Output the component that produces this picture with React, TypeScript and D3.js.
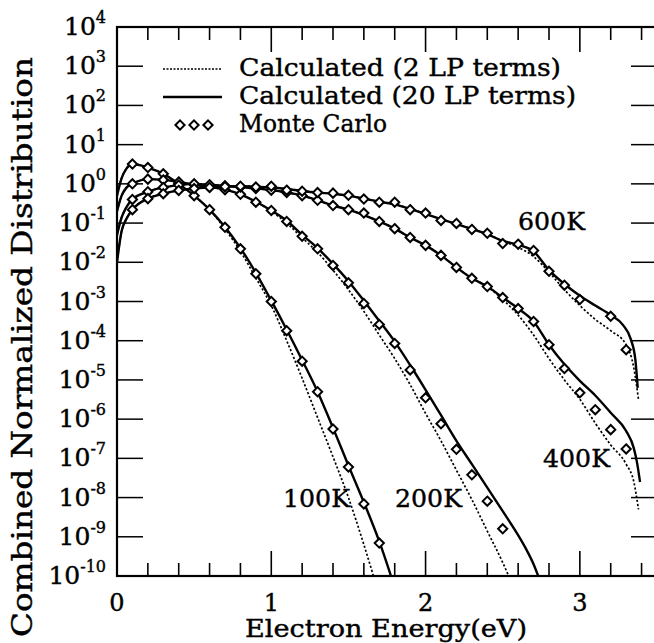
import React from "react";
import * as d3 from "d3";

// ---- data (energy in eV, combined normalized distribution) ----

// 100K
const e100 = [0, 0.03, 0.06, 0.1, 0.2, 0.3, 0.4, 0.5, 0.6, 0.7, 0.8, 0.9, 1.0, 1.1, 1.2, 1.3, 1.4, 1.5, 1.6, 1.7, 1.78];
const solid100 = [0.5, 1.4, 2.4, 3.2, 2.6, 1.8, 1.0, 0.5, 0.22, 0.079, 0.023, 5.4e-3, 1.05e-3, 1.9e-4, 3.2e-5, 5.0e-6, 6.0e-7, 6.6e-8, 7.6e-9, 7.6e-10, 8.9e-11];
const dotE100 = [0, 0.03, 0.06, 0.1, 0.2, 0.3, 0.4, 0.5, 0.6, 0.7, 0.8, 0.9, 1.0, 1.1, 1.2, 1.3, 1.4, 1.5, 1.6, 1.67];
const dot100 = [0.5, 1.4, 2.4, 3.2, 2.6, 1.8, 1.0, 0.5, 0.22, 0.071, 0.019, 4.0e-3, 7.9e-4, 1.0e-4, 1.1e-5, 1.1e-6, 1.1e-7, 1.0e-8, 6.3e-10, 7.9e-11];
const mcE100 = [0.1, 0.2, 0.3, 0.4, 0.5, 0.6, 0.7, 0.8, 0.9, 1.0, 1.1, 1.2, 1.3, 1.4, 1.5, 1.6, 1.7];
const mc100 = [3.2, 2.6, 1.8, 1.0, 0.5, 0.22, 0.078, 0.022, 5.1e-3, 1.0e-3, 1.8e-4, 3.0e-5, 5.0e-6, 5.6e-7, 6.0e-8, 6.9e-9, 6.9e-10];

// 200K
const e200 = [0, 0.03, 0.06, 0.1, 0.2, 0.3, 0.4, 0.5, 0.6, 0.7, 0.8, 0.9, 1.0, 1.1, 1.2, 1.3, 1.4, 1.5, 1.6, 1.7, 1.8, 1.9, 2.0, 2.1, 2.2, 2.3, 2.4, 2.5, 2.6, 2.65, 2.7, 2.74];
const solid200 = [0.2, 0.5, 0.79, 1.0, 1.32, 1.26, 1.12, 0.95, 0.83, 0.71, 0.54, 0.35, 0.21, 0.115, 0.05, 0.023, 9.1e-3, 3.3e-3, 1.05e-3, 3.2e-4, 9.5e-5, 2.4e-5, 5.6e-6, 1.26e-6, 2.8e-7, 7.1e-8, 1.8e-8, 4.5e-9, 1.1e-9, 5.0e-10, 2.0e-10, 7.9e-11];
const dotE200 = [0, 0.03, 0.06, 0.1, 0.2, 0.3, 0.4, 0.5, 0.6, 0.7, 0.8, 0.9, 1.0, 1.1, 1.2, 1.3, 1.4, 1.5, 1.6, 1.7, 1.8, 1.9, 2.0, 2.1, 2.2, 2.3, 2.4, 2.5, 2.55];
const dot200 = [0.2, 0.5, 0.79, 1.0, 1.32, 1.26, 1.12, 0.95, 0.83, 0.71, 0.54, 0.35, 0.2, 0.1, 0.042, 0.018, 6.3e-3, 2.0e-3, 5.6e-4, 1.4e-4, 3.5e-5, 7.6e-6, 1.4e-6, 2.8e-7, 5.0e-8, 8.9e-9, 1.4e-9, 2.2e-10, 7.9e-11];
const mcE200 = [0.1, 0.2, 0.3, 0.4, 0.5, 0.6, 0.7, 0.8, 0.9, 1.0, 1.1, 1.2, 1.3, 1.4, 1.5, 1.6, 1.7, 1.8, 1.9, 2.0, 2.1, 2.2, 2.3, 2.4, 2.5];
const mc200 = [1.0, 1.32, 1.26, 1.12, 0.95, 0.83, 0.71, 0.54, 0.34, 0.21, 0.11, 0.046, 0.022, 8.3e-3, 3.0e-3, 8.9e-4, 2.6e-4, 8.5e-5, 1.8e-5, 3.5e-6, 7.6e-7, 1.7e-7, 3.8e-8, 8.1e-9, 1.6e-9];

// 400K
const e400 = [0, 0.03, 0.06, 0.1, 0.2, 0.3, 0.4, 0.5, 0.6, 0.7, 0.8, 0.9, 1.0, 1.1, 1.2, 1.3, 1.4, 1.5, 1.6, 1.7, 1.8, 1.9, 2.0, 2.1, 2.2, 2.3, 2.4, 2.5, 2.6, 2.7, 2.8, 2.9, 3.0, 3.1, 3.2, 3.3, 3.35, 3.37, 3.39];
const solid400 = [0.05, 0.14, 0.25, 0.4, 0.63, 0.81, 0.93, 1.0, 0.95, 0.89, 0.83, 0.76, 0.69, 0.6, 0.5, 0.38, 0.28, 0.22, 0.16, 0.11, 0.072, 0.043, 0.027, 0.015, 7.4e-3, 3.9e-3, 2.4e-3, 1.26e-3, 6.6e-4, 3.1e-4, 7.9e-5, 2.5e-5, 9.5e-6, 4.0e-6, 1.45e-6, 5.0e-7, 1.8e-7, 8.0e-8, 2.5e-8];
const dotE400 = [0, 0.03, 0.06, 0.1, 0.2, 0.3, 0.4, 0.5, 0.6, 0.7, 0.8, 0.9, 1.0, 1.1, 1.2, 1.3, 1.4, 1.5, 1.6, 1.7, 1.8, 1.9, 2.0, 2.1, 2.2, 2.3, 2.4, 2.5, 2.6, 2.7, 2.8, 2.9, 3.0, 3.1, 3.2, 3.3, 3.35, 3.38];
const dot400 = [0.05, 0.14, 0.25, 0.4, 0.63, 0.81, 0.93, 1.0, 0.95, 0.89, 0.83, 0.76, 0.69, 0.6, 0.5, 0.38, 0.28, 0.22, 0.16, 0.11, 0.072, 0.043, 0.027, 0.015, 7.4e-3, 3.9e-3, 2.4e-3, 1.12e-3, 4.5e-4, 1.4e-4, 3.5e-5, 1.0e-5, 3.2e-6, 7.9e-7, 2.2e-7, 7.1e-8, 2.5e-8, 5.0e-9];
const mcE400 = [0.1, 0.2, 0.3, 0.4, 0.5, 0.6, 0.7, 0.8, 0.9, 1.0, 1.1, 1.2, 1.3, 1.4, 1.5, 1.6, 1.7, 1.8, 1.9, 2.0, 2.1, 2.2, 2.3, 2.4, 2.5, 2.6, 2.7, 2.8, 2.9, 3.0, 3.1, 3.2, 3.3];
const mc400 = [0.4, 0.63, 0.81, 0.93, 1.0, 0.95, 0.89, 0.83, 0.76, 0.69, 0.6, 0.5, 0.38, 0.28, 0.22, 0.18, 0.11, 0.072, 0.043, 0.027, 0.015, 7.4e-3, 3.9e-3, 2.4e-3, 1.26e-3, 6.6e-4, 3.1e-4, 7.9e-5, 1.95e-5, 4.7e-6, 1.74e-6, 5.4e-7, 1.74e-7];

// 600K
const e600 = [0, 0.03, 0.06, 0.1, 0.2, 0.3, 0.4, 0.5, 0.6, 0.7, 0.8, 0.9, 1.0, 1.1, 1.2, 1.3, 1.4, 1.5, 1.6, 1.7, 1.8, 1.9, 2.0, 2.1, 2.2, 2.3, 2.4, 2.5, 2.6, 2.7, 2.8, 2.9, 3.0, 3.1, 3.2, 3.28, 3.33, 3.36, 3.375];
const solid600 = [0.01, 0.063, 0.126, 0.22, 0.42, 0.56, 0.68, 0.76, 0.81, 0.85, 0.87, 0.85, 0.81, 0.74, 0.66, 0.6, 0.56, 0.5, 0.42, 0.35, 0.3, 0.23, 0.17, 0.126, 0.095, 0.071, 0.052, 0.035, 0.028, 0.019, 6.3e-3, 2.8e-3, 1.4e-3, 7.9e-4, 4.5e-4, 2.5e-4, 1.1e-4, 3.2e-5, 6.3e-6];
const dotE600 = [0, 0.03, 0.06, 0.1, 0.2, 0.3, 0.4, 0.5, 0.6, 0.7, 0.8, 0.9, 1.0, 1.1, 1.2, 1.3, 1.4, 1.5, 1.6, 1.7, 1.8, 1.9, 2.0, 2.1, 2.2, 2.3, 2.4, 2.5, 2.6, 2.7, 2.8, 2.9, 3.0, 3.1, 3.2, 3.3, 3.35, 3.38];
const dot600 = [0.01, 0.063, 0.126, 0.22, 0.42, 0.56, 0.68, 0.76, 0.81, 0.85, 0.87, 0.85, 0.81, 0.74, 0.66, 0.6, 0.56, 0.5, 0.42, 0.35, 0.3, 0.23, 0.17, 0.126, 0.095, 0.071, 0.052, 0.035, 0.024, 0.014, 5.6e-3, 2.0e-3, 7.9e-4, 3.5e-4, 1.8e-4, 7.9e-5, 2.0e-5, 3.2e-6];
const mcE600 = [0.1, 0.2, 0.3, 0.4, 0.5, 0.6, 0.7, 0.8, 0.9, 1.0, 1.1, 1.2, 1.3, 1.4, 1.5, 1.6, 1.7, 1.8, 1.9, 2.0, 2.1, 2.2, 2.3, 2.4, 2.5, 2.6, 2.7, 2.8, 2.9, 3.0, 3.2, 3.3];
const mc600 = [0.22, 0.42, 0.56, 0.68, 0.76, 0.81, 0.85, 0.87, 0.83, 0.87, 0.69, 0.65, 0.6, 0.58, 0.51, 0.41, 0.34, 0.34, 0.22, 0.18, 0.117, 0.098, 0.069, 0.055, 0.03, 0.029, 0.02, 5.9e-3, 2.6e-3, 1.12e-3, 4.2e-4, 5.9e-5];

const xTickLabels = ["0", "1", "2", "3"];
const yExponents = [4, 3, 2, 1, 0, -1, -2, -3, -4, -5, -6, -7, -8, -9, -10];
const legendLabels = ["Calculated (2 LP terms)", "Calculated (20 LP terms)", "Monte Carlo"];
const legendWidths = [322, 337, 148];
const tempLabels = [
  { text: "600K", x: 518, y: 230 },
  { text: "400K", x: 543, y: 467 },
  { text: "200K", x: 395, y: 507 },
  { text: "100K", x: 283, y: 507 },
];

const FONT = "'DejaVu Serif', 'Liberation Serif', serif";
const m = { l: 117, r: 657, t: 27, b: 576 };

const zip = (xs: number[], ys: number[]) => xs.map((e, i) => [e, ys[i]] as [number, number]);

const solidSeries = [zip(e100, solid100), zip(e200, solid200), zip(e400, solid400), zip(e600, solid600)];
const dotSeries = [zip(dotE100, dot100), zip(dotE200, dot200), zip(dotE400, dot400), zip(dotE600, dot600)];
const mcSeries = [zip(mcE100, mc100), zip(mcE200, mc200), zip(mcE400, mc400), zip(mcE600, mc600)];

function diamond(cx: number, cy: number, r = 4.6) {
  return `M${cx},${cy - r}L${cx + r},${cy}L${cx},${cy + r}L${cx - r},${cy}Z`;
}

export default function App() {
  const x = d3.scaleLinear().domain([0, 3.5]).range([m.l, m.r]);
  const y = d3.scaleLog().domain([1e-10, 1e4]).range([m.b, m.t]);

  const line = d3
    .line<[number, number]>()
    .x(d => x(d[0]))
    .y(d => y(d[1]))
    .curve(d3.curveMonotoneX);

  // tick positions every 0.2 eV
  const xMinor = d3.range(0, 3.5001, 0.2);
  const yTicks = y.ticks();

  const txt = { fontFamily: FONT, fill: "#000", stroke: "#000", strokeWidth: 0.4 } as const;

  return (
    <svg width={654} height={643} style={{ position: "absolute", left: 0, top: 0, background: "#fff" }}>
      <defs>
        <clipPath id="plot">
          <rect x={m.l} y={m.t} width={m.r - m.l} height={m.b - m.t} />
        </clipPath>
      </defs>
      <rect width={654} height={643} fill="#fff" />

      {/* x ticks, bottom and top */}
      {xMinor.map((v, i) => {
        const major = Math.abs(v - Math.round(v)) < 1e-6;
        const len = major ? 25 : 13;
        return (
          <g key={"xt" + i} stroke="#000" strokeWidth={1.6}>
            <line x1={x(v)} x2={x(v)} y1={m.b} y2={m.b - len} />
            <line x1={x(v)} x2={x(v)} y1={m.t} y2={m.t + len} />
          </g>
        );
      })}

      {/* y ticks, left and right */}
      {yTicks.map((v, i) => {
        const major = Math.abs(Math.log10(v) - Math.round(Math.log10(v))) < 1e-6;
        const len = major ? 26 : 13;
        return (
          <g key={"yt" + i} stroke="#000" strokeWidth={1.5}>
            <line x1={m.l} x2={m.l + len} y1={y(v)} y2={y(v)} />
            <line x1={m.r} x2={m.r - len} y1={y(v)} y2={y(v)} />
          </g>
        );
      })}

      {/* frame */}
      <rect x={m.l} y={m.t} width={m.r - m.l} height={m.b - m.t} fill="none" stroke="#000" strokeWidth={2.2} />

      {/* curves */}
      <g clipPath="url(#plot)" fill="none">
        {dotSeries.map((s, i) => (
          <path key={"d" + i} d={line(s) || ""} stroke="#000" strokeWidth={1.7} strokeDasharray="2.2,2" />
        ))}
        {solidSeries.map((s, i) => (
          <path key={"s" + i} d={line(s) || ""} stroke="#000" strokeWidth={2.4} />
        ))}
        {mcSeries.map((s, i) =>
          s.map((d, j) => (
            <path key={"m" + i + "-" + j} d={diamond(x(d[0]), y(d[1]))} fill="#fff" stroke="#000" strokeWidth={2} />
          ))
        )}
      </g>

      {/* x tick labels */}
      {xTickLabels.map((t, i) => (
        <text key={"xl" + i} x={x(+t)} y={611} textAnchor="middle" fontSize={24} {...txt}>
          {t}
        </text>
      ))}

      {/* y tick labels */}
      {yExponents.map(k => (
        <text key={"yl" + k} x={106} y={y(Math.pow(10, k)) + 8} textAnchor="end" fontSize={25} {...txt}>
          10
          <tspan fontSize={16} dy={-12}>
            {k < 0 ? "-" + Math.abs(k) : String(k)}
          </tspan>
        </text>
      ))}

      {/* axis titles */}
      <text x={386} y={637} textAnchor="middle" fontSize={24} textLength={282} lengthAdjust="spacingAndGlyphs" {...txt}>
        Electron Energy(eV)
      </text>
      <text
        transform={`translate(32,347) rotate(-90)`}
        textAnchor="middle"
        fontSize={27}
        textLength={580}
        lengthAdjust="spacingAndGlyphs"
        {...txt}
      >
        Combined Normalized Distribution
      </text>

      {/* legend */}
      <g>
        <line x1={163} x2={222} y1={69} y2={69} stroke="#000" strokeWidth={1.5} strokeDasharray="2,1.5" />
        <line x1={163} x2={222} y1={97} y2={97} stroke="#000" strokeWidth={2.4} />
        {[180, 194, 208].map(cx => (
          <path key={"lg" + cx} d={diamond(cx, 125)} fill="#fff" stroke="#000" strokeWidth={2} />
        ))}
        {legendLabels.map((t, i) => (
          <text key={"lt" + i} x={239} y={76 + i * 28} fontSize={24.5} textLength={legendWidths[i]} lengthAdjust="spacingAndGlyphs" {...txt}>
            {t}
          </text>
        ))}
      </g>

      {/* temperature labels */}
      {tempLabels.map(t => (
        <text key={t.text} x={t.x} y={t.y} fontSize={24} textLength={67} lengthAdjust="spacingAndGlyphs" {...txt}>
          {t.text}
        </text>
      ))}
    </svg>
  );
}
